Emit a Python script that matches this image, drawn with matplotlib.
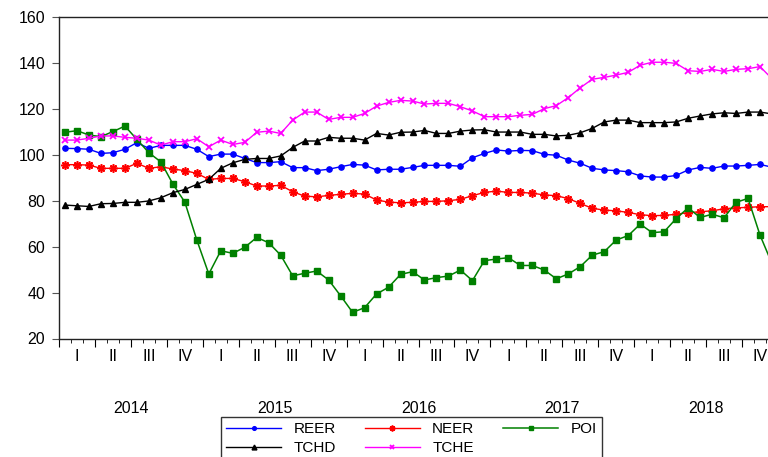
import matplotlib
matplotlib.use("Agg")
import matplotlib.pyplot as plt
import matplotlib.transforms as mtransforms
import numpy as np

plt.rcParams['font.family'] = ['Liberation Sans', 'DejaVu Sans']

# Monthly data, Jan 2014 - Dec 2018
years = [2014, 2015, 2016, 2017, 2018]
quarters = ["I", "II", "III", "IV"]

reer = [102.8, 102.7, 102.4, 100.6, 100.9, 102.4, 105.3, 102.8, 104.1, 104.1, 104.1, 102.4,
        99.2, 100.3, 100.3, 98.4, 96.6, 96.6, 97.0, 94.4, 94.4, 93.1, 93.7, 94.8,
        95.8, 95.5, 93.4, 93.7, 93.7, 94.5, 95.4, 95.4, 95.4, 95.0, 98.7, 100.6,
        102.1, 101.6, 101.9, 101.8, 100.2, 99.8, 97.7, 96.3, 94.1, 93.4, 93.1, 92.6,
        90.8, 90.3, 90.3, 91.0, 93.4, 94.5, 94.1, 95.1, 95.1, 95.4, 95.8, 94.6]
neer = [95.7, 95.7, 95.5, 94.1, 94.1, 94.1, 96.3, 94.1, 94.8, 93.8, 93.1, 91.9,
        89.3, 89.7, 89.7, 88.3, 86.4, 86.4, 86.7, 83.9, 82.0, 81.7, 82.3, 82.8,
        83.2, 82.9, 80.3, 79.4, 79.1, 79.3, 79.7, 79.7, 80.0, 80.6, 82.2, 83.6,
        84.2, 83.6, 83.6, 83.3, 82.5, 82.2, 80.9, 78.8, 76.7, 75.9, 75.6, 74.9,
        73.9, 73.5, 73.6, 74.1, 74.8, 75.2, 75.6, 76.5, 76.9, 77.1, 77.4, 77.4]
poi = [109.8, 110.5, 108.6, 107.9, 110.1, 112.5, 106.7, 100.9, 96.9, 87.3, 79.4, 62.9,
       48.1, 58.2, 57.1, 59.7, 64.0, 61.7, 56.3, 47.3, 48.4, 49.4, 45.5, 38.6,
       31.4, 33.4, 39.4, 42.3, 47.9, 49.1, 45.5, 46.5, 47.2, 49.8, 45.2, 53.9,
       54.6, 55.2, 51.8, 51.8, 49.8, 46.0, 48.1, 51.3, 56.3, 57.8, 62.9, 64.8,
       69.8, 66.1, 66.5, 72.2, 76.9, 72.7, 74.1, 72.6, 79.3, 81.0, 65.0, 52.6]
tchd = [78.1, 77.8, 77.5, 78.7, 78.8, 79.3, 79.3, 79.9, 81.3, 83.5, 84.9, 87.1,
        89.3, 94.1, 96.5, 98.0, 98.4, 98.4, 99.5, 103.2, 106.0, 106.0, 107.6, 107.2,
        107.2, 106.4, 109.3, 108.6, 109.8, 109.9, 110.6, 109.3, 109.3, 110.3, 110.8, 110.9,
        109.9, 109.9, 109.9, 108.9, 108.9, 108.2, 108.5, 109.6, 111.5, 114.3, 115.1, 115.1,
        114.0, 114.0, 114.0, 114.3, 115.9, 116.9, 117.8, 118.3, 118.0, 118.6, 118.6, 117.8]
tche = [106.4, 106.4, 107.2, 108.2, 108.2, 107.6, 107.2, 106.4, 104.2, 105.7, 105.7, 107.0,
        103.5, 106.4, 104.5, 105.4, 109.8, 110.3, 109.3, 115.1, 118.6, 118.6, 115.4, 116.3,
        116.3, 118.0, 121.2, 122.8, 123.7, 123.4, 122.1, 122.4, 122.4, 120.9, 119.1, 116.6,
        116.6, 116.6, 117.2, 117.6, 120.1, 121.4, 124.9, 129.2, 132.9, 133.7, 134.7, 135.9,
        139.0, 140.3, 140.3, 139.8, 136.6, 136.3, 137.2, 136.3, 137.2, 137.5, 138.4, 133.1]

n = len(reer)
x = np.arange(n)

fig = plt.figure(figsize=(7.68, 4.57), dpi=100)
# axes run past the right edge of the figure, like the cropped original
ax = fig.add_axes([59 / 768, 1 - 338.5 / 457, 719 / 768, 321.5 / 457])

l1, = ax.plot(x, reer, color="#0000ff", lw=1, marker="o", ms=3.8, label="REER")
l2, = ax.plot(x, neer, color="#ff0000", lw=1, marker=(8, 2, 0), ms=6, mew=1.2, label="NEER")
l3, = ax.plot(x, poi, color="#008000", lw=1.1, marker="s", ms=4.5, label="POI")
l4, = ax.plot(x, tchd, color="black", lw=1, marker="^", ms=5, label="TCHD")
l5, = ax.plot(x, tche, color="#ff00ff", lw=1, marker="x", ms=5, mew=1.3, label="TCHE")

ax.set_xlim(-0.5, n - 0.5)
ax.set_ylim(20, 160)
ax.set_yticks(range(20, 161, 20))
ax.tick_params(axis="y", direction="out", length=5, pad=5, labelsize=11.5, color="#555555")

# month ticks (minor) and quarter ticks (major)
ax.set_xticks(np.arange(-0.5, n, 3))
ax.set_xticks(np.arange(-0.5, n, 1), minor=True)
ax.tick_params(axis="x", which="major", direction="out", length=6, labelbottom=False)
ax.tick_params(axis="x", which="minor", direction="out", length=3)

for s in ["top", "left", "bottom", "right"]:
    ax.spines[s].set_linewidth(1)
    ax.spines[s].set_color("#222222")

# quarter and year labels under the axis
trans = mtransforms.blended_transform_factory(ax.transData, ax.transAxes)
for i, yr in enumerate(years):
    for q, ql in enumerate(quarters):
        ax.text(i * 12 + q * 3 + 1, -0.0575, ql, transform=trans,
                ha="center", va="center", fontsize=11.5)
    ax.text(i * 12 + 5.5, -0.219, str(yr), transform=trans,
            ha="center", va="center", fontsize=11.5)

leg = fig.legend(handles=[l1, l4, l2, l5, l3], ncol=3,
                 loc="upper left", bbox_to_anchor=(221 / 768, 1 - 417 / 457),
                 frameon=True, fancybox=False, edgecolor="black",
                 fontsize=11, handlelength=3.6, handletextpad=0.8,
                 columnspacing=1.9, labelspacing=0.3, borderpad=0.35,
                 markerscale=0.7, borderaxespad=0)
leg.get_frame().set_linewidth(1)

fig.savefig("out.png", dpi=100)
